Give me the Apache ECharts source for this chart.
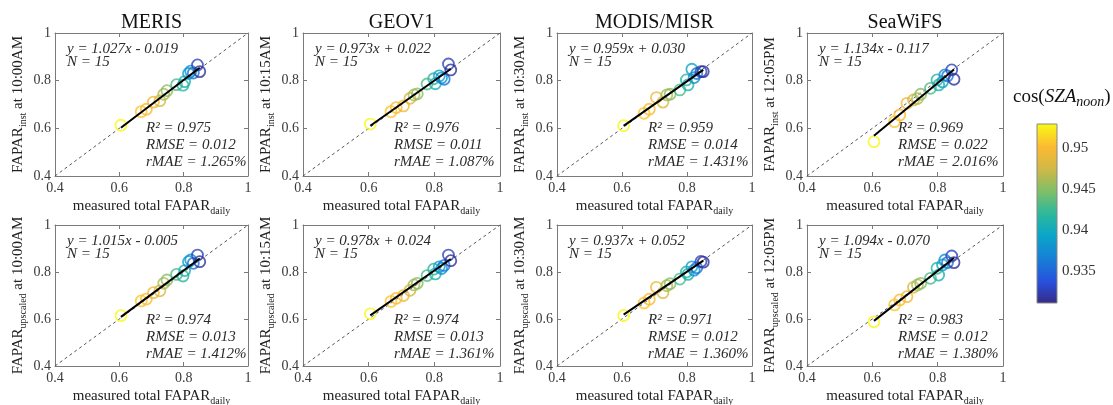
<!DOCTYPE html>
<html><head><meta charset="utf-8">
<script src="https://cdn.jsdelivr.net/npm/echarts@6/dist/echarts.min.js"></script>
<style>html,body{margin:0;padding:0;background:#fff}#c{width:1113px;height:405px}</style>
</head><body><div id="c"></div>
<script>
// ---------------- DATA ----------------
const sensors = ['MERIS', 'GEOV1', 'MODIS/MISR', 'SeaWiFS'];
const passTimes = ['10:00AM', '10:15AM', '10:30AM', '12:05PM'];
const rowSubs = ['inst', 'upscaled'];
const axisTicks = [0.4, 0.6, 0.8, 1];
const cbTicks = [0.935, 0.94, 0.945, 0.95];
const cbRange = [0.9311, 0.9529];

// measured total FAPAR_daily (x) and cos(SZA_noon) per site
const measuredDaily = [0.605, 0.668, 0.684, 0.706, 0.726, 0.738, 0.748, 0.778, 0.798, 0.803, 0.815, 0.822, 0.830, 0.843, 0.850];
const cosSZAnoon   = [0.9528, 0.9506, 0.9500, 0.9494, 0.9480, 0.9462, 0.9450, 0.9430, 0.9418, 0.9408, 0.9392, 0.9378, 0.9360, 0.9328, 0.9316];

// FAPAR_inst (top row)
const yMERISinst   = [0.613, 0.670, 0.680, 0.710, 0.716, 0.743, 0.758, 0.783, 0.781, 0.796, 0.830, 0.840, 0.832, 0.866, 0.838];
const yGEOV1inst   = [0.618, 0.670, 0.687, 0.694, 0.726, 0.740, 0.745, 0.786, 0.808, 0.787, 0.820, 0.812, 0.806, 0.870, 0.845];
const yMODISinst   = [0.611, 0.663, 0.680, 0.729, 0.710, 0.740, 0.743, 0.761, 0.803, 0.782, 0.848, 0.813, 0.830, 0.838, 0.838];
const ySeaWiFSinst = [0.544, 0.628, 0.656, 0.705, 0.719, 0.725, 0.743, 0.768, 0.803, 0.782, 0.795, 0.824, 0.820, 0.845, 0.806];
// FAPAR_upscaled (bottom row)
const yMERISup     = [0.614, 0.677, 0.685, 0.712, 0.720, 0.752, 0.766, 0.790, 0.783, 0.806, 0.844, 0.851, 0.837, 0.872, 0.844];
const yGEOV1up     = [0.622, 0.675, 0.688, 0.700, 0.722, 0.745, 0.752, 0.785, 0.812, 0.792, 0.822, 0.815, 0.828, 0.872, 0.848];
const yMODISup     = [0.615, 0.668, 0.684, 0.735, 0.712, 0.742, 0.750, 0.770, 0.800, 0.790, 0.822, 0.808, 0.818, 0.845, 0.842];
const ySeaWiFSup   = [0.588, 0.660, 0.681, 0.695, 0.735, 0.745, 0.752, 0.773, 0.816, 0.787, 0.830, 0.851, 0.840, 0.868, 0.840];

const slopes     = [1.027, 0.973, 0.959, 1.134, 1.015, 0.978, 0.937, 1.094];
const intercepts = [-0.019, 0.022, 0.030, -0.117, -0.005, 0.024, 0.052, -0.070];
const r2Vals     = [0.975, 0.976, 0.959, 0.969, 0.974, 0.974, 0.971, 0.983];
const rmseVals   = [0.012, 0.011, 0.014, 0.022, 0.013, 0.013, 0.012, 0.012];
const rmaeVals   = [1.265, 1.087, 1.431, 2.016, 1.412, 1.361, 1.360, 1.380];
const nObs       = [15, 15, 15, 15, 15, 15, 15, 15];

const panelY = [yMERISinst, yGEOV1inst, yMODISinst, ySeaWiFSinst, yMERISup, yGEOV1up, yMODISup, ySeaWiFSup];

// ---------------- STYLE ----------------
const SERIF = '"Liberation Serif","Times New Roman",serif';
const colLeft = [55, 303, 557, 807];
const colWidth = [193, 197, 195, 196];
const rowTop = [33, 225];
const rowHeight = [143, 141];
const parula = [
  [0.00, [53, 42, 135]], [0.12, [40, 80, 220]], [0.25, [22, 128, 214]],
  [0.38, [10, 166, 200]], [0.50, [45, 184, 155]], [0.62, [125, 191, 105]],
  [0.75, [210, 184, 70]], [0.87, [252, 186, 50]], [1.00, [249, 250, 20]]
];
function colorAt(v) {
  let t = (v - cbRange[0]) / (cbRange[1] - cbRange[0]);
  t = Math.max(0, Math.min(1, t));
  for (let i = 1; i < parula.length; i++) {
    if (t <= parula[i][0]) {
      const a = parula[i - 1], b = parula[i];
      const f = (t - a[0]) / (b[0] - a[0]);
      const c = a[1].map((x, k) => Math.round(x + (b[1][k] - x) * f));
      return 'rgb(' + c.join(',') + ')';
    }
  }
  return 'rgb(' + parula[parula.length - 1][1].join(',') + ')';
}
function fmtEq(a, b) {
  return 'y = ' + a.toFixed(3) + 'x ' + (b < 0 ? '- ' : '+ ') + Math.abs(b).toFixed(3);
}

const grids = [], xAxes = [], yAxes = [], series = [], graphics = [];
const axColor = '#7a7a7a';
const labelStyle = { fontFamily: SERIF, fontSize: 14, color: '#3a3a3a' };
const nameRich = {
  a: { fontFamily: SERIF, fontSize: 15, color: '#222', lineHeight: 20, verticalAlign: 'middle' },
  s: { fontFamily: SERIF, fontSize: 10, color: '#222', lineHeight: 10, verticalAlign: 'bottom' }
};

for (let p = 0; p < 8; p++) {
  const row = Math.floor(p / 4), col = p % 4;
  const L = colLeft[col], T = rowTop[row], W = colWidth[col], H = rowHeight[row];
  grids.push({ left: L, top: T, width: W, height: H, containLabel: false, outerBoundsMode: 'none' });
  const base = { gridIndex: p, type: 'value', min: axisTicks[0], max: axisTicks[axisTicks.length - 1], interval: 0.2,
    splitLine: { show: false },
    axisLine: { show: true, onZero: false, lineStyle: { color: axColor, width: 1 } },
    axisTick: { show: true, inside: true, length: 4, lineStyle: { color: axColor } } };
  xAxes.push(Object.assign({}, base, { position: 'bottom',
    axisLabel: Object.assign({ margin: 5 }, labelStyle),
    name: '{a|measured total FAPAR}{s|daily}', nameLocation: 'middle', nameGap: 20,
    nameTextStyle: { rich: nameRich } }));
  xAxes.push(Object.assign({}, base, { position: 'top', axisLabel: { show: false } }));
  yAxes.push(Object.assign({}, base, { position: 'left',
    axisLabel: Object.assign({ margin: 4 }, labelStyle),
    name: '{a|FAPAR}{s|' + rowSubs[row] + '}{a| at ' + passTimes[col] + '}', nameLocation: 'middle', nameGap: 27, nameRotate: 90,
    nameTextStyle: { rich: nameRich } }));
  yAxes.push(Object.assign({}, base, { position: 'right', axisLabel: { show: false } }));

  const xi = p * 2, yi = p * 2;
  const ys = panelY[p];
  series.push({ type: 'line', xAxisIndex: xi, yAxisIndex: yi, symbol: 'none', silent: true, z: 1,
    lineStyle: { color: '#555', width: 1, type: [3, 3] },
    data: [[axisTicks[0], axisTicks[0]], [axisTicks[axisTicks.length - 1], axisTicks[axisTicks.length - 1]]] });
  series.push({ type: 'scatter', xAxisIndex: xi, yAxisIndex: yi, symbol: 'circle', symbolSize: 11, z: 2,
    itemStyle: { color: 'rgba(0,0,0,0)', borderWidth: 1.8 },
    data: measuredDaily.map((x, k) => ({ value: [x, ys[k]], itemStyle: { borderColor: colorAt(cosSZAnoon[k]) } })) });
  const xmin = Math.min(...measuredDaily), xmax = Math.max(...measuredDaily);
  series.push({ type: 'line', xAxisIndex: xi, yAxisIndex: yi, symbol: 'none', silent: true, z: 3,
    lineStyle: { color: '#000', width: 2 },
    data: [[xmin, slopes[p] * xmin + intercepts[p]], [xmax, slopes[p] * xmax + intercepts[p]]] });

  const ital = 'italic 15px ' + SERIF;
  const txt = (x, y, s) => ({ type: 'text', x: x, y: y, z: 10, silent: true,
    style: { text: s, font: ital, fill: '#2a2a2a', verticalAlign: 'middle', align: 'left' } });
  graphics.push(txt(L + 12, T + 16, fmtEq(slopes[p], intercepts[p])));
  graphics.push(txt(L + 12, T + 29, 'N = ' + nObs[p]));
  graphics.push(txt(L + 91, T + 95, 'R² = ' + r2Vals[p].toFixed(3)));
  graphics.push(txt(L + 91, T + 112, 'RMSE = ' + rmseVals[p].toFixed(3)));
  graphics.push(txt(L + 91, T + 129, 'rMAE = ' + rmaeVals[p].toFixed(3) + '%'));
  if (row === 0) {
    graphics.push({ type: 'text', x: L + W / 2, y: T - 10, silent: true,
      style: { text: sensors[col], font: '20px ' + SERIF, fill: '#111', align: 'center', verticalAlign: 'middle' } });
  }
}

// colorbar grid
const cbGrid = grids.length;
grids.push({ left: 1037, top: 124, width: 20, height: 179, outerBoundsMode: 'none' });
xAxes.push({ gridIndex: cbGrid, type: 'value', min: 0, max: 1, show: false });
yAxes.push({ gridIndex: cbGrid, type: 'value', min: cbRange[0], max: cbRange[1], position: 'right',
  splitLine: { show: false },
  axisLine: { show: false },
  axisTick: { show: true, inside: false, length: 3, customValues: cbTicks, lineStyle: { color: axColor } },
  axisLabel: { customValues: cbTicks, margin: 5, fontFamily: SERIF, fontSize: 15, color: '#333',
    formatter: v => String(+v.toFixed(3)) } });
series.push({ type: 'custom', xAxisIndex: xAxes.length - 1, yAxisIndex: yAxes.length - 1, silent: true,
  data: [[0, cbRange[0], 1, cbRange[1]]],
  renderItem: function (params, api) {
    const p0 = api.coord([api.value(0), api.value(3)]);
    const p1 = api.coord([api.value(2), api.value(1)]);
    const stops = parula.map(s => ({ offset: 1 - s[0], color: 'rgb(' + s[1].join(',') + ')' })).reverse();
    return { type: 'rect', shape: { x: p0[0], y: p0[1], width: p1[0] - p0[0], height: p1[1] - p0[1] },
      style: { fill: new echarts.graphic.LinearGradient(0, 0, 0, 1, stops), stroke: '#888', lineWidth: 1 } };
  } });

graphics.push({ type: 'text', x: 1013, y: 97, silent: true,
  style: { text: '{a|cos(}{i|SZA}{s|noon}{a|)}', verticalAlign: 'middle', align: 'left',
    rich: {
      a: { fontFamily: SERIF, fontSize: 19, fill: '#111', lineHeight: 24, verticalAlign: 'middle' },
      i: { fontFamily: SERIF, fontStyle: 'italic', fontSize: 19, fill: '#111', lineHeight: 24, verticalAlign: 'middle' },
      s: { fontFamily: SERIF, fontStyle: 'italic', fontSize: 14, fill: '#111', lineHeight: 12, verticalAlign: 'bottom' }
    } } });

const chart = echarts.init(document.getElementById('c'), null, { renderer: 'canvas' });
chart.setOption({
  animation: false,
  backgroundColor: '#fff',
  grid: grids, xAxis: xAxes, yAxis: yAxes, series: series, graphic: graphics
});
</script></body></html>
